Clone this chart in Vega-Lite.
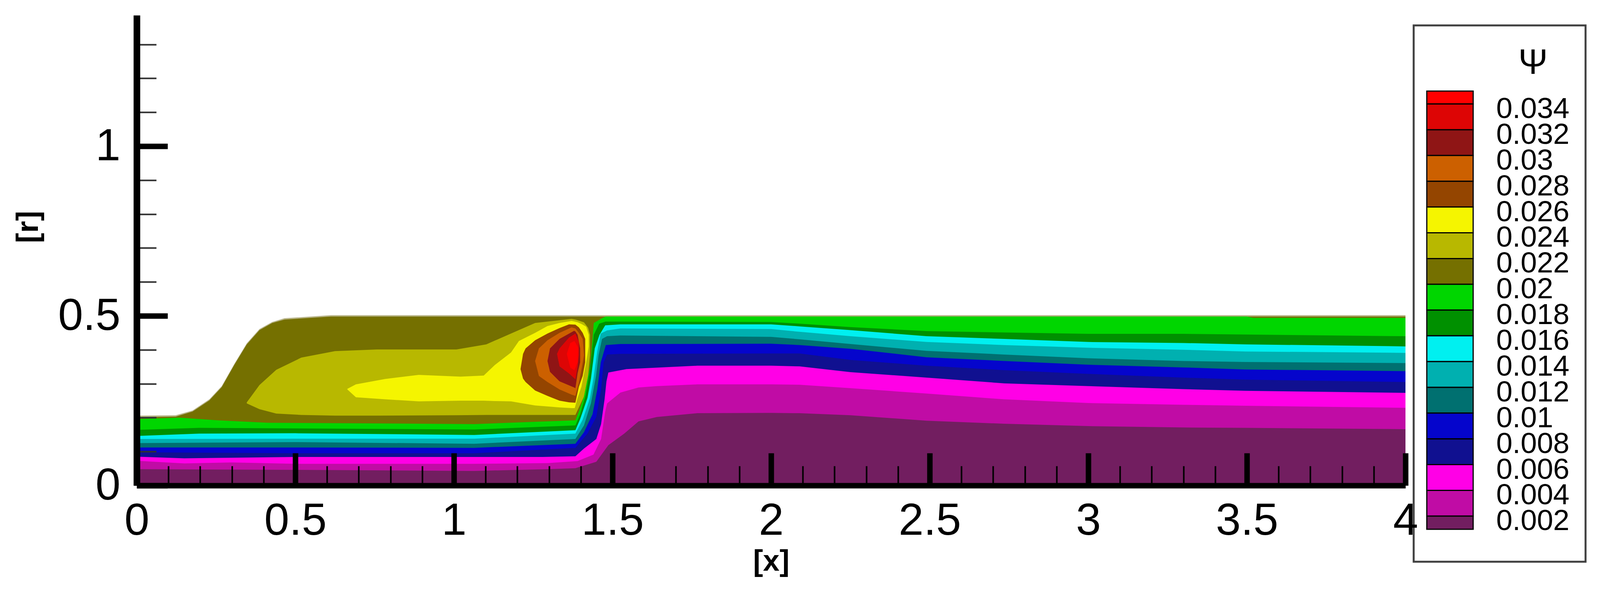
{
  "$schema": "https://vega.github.io/schema/vega-lite/v6.json",
  "background": "white",
  "padding": 0,
  "autosize": {"type": "fit", "contains": "padding"},
  "width": 4096,
  "height": 1517,
  "config": {
    "view": {"stroke": null},
    "font": "Liberation Sans"
  },
  "datasets": {
    "bands": [
      {"level":"wall","x":0,"r0":0,"r1":0.206},{"level":"wall","x":0.123,"r0":0,"r1":0.207},{"level":"wall","x":0.176,"r0":0,"r1":0.221},{"level":"wall","x":0.229,"r0":0,"r1":0.254},{"level":"wall","x":0.268,"r0":0,"r1":0.293},{"level":"wall","x":0.308,"r0":0,"r1":0.359},{"level":"wall","x":0.347,"r0":0,"r1":0.419},{"level":"wall","x":0.387,"r0":0,"r1":0.461},{"level":"wall","x":0.427,"r0":0,"r1":0.482},{"level":"wall","x":0.466,"r0":0,"r1":0.493},{"level":"wall","x":0.612,"r0":0,"r1":0.502},{"level":"wall","x":4,"r0":0,"r1":0.502},

      {"level":"0.02","x":0,"r0":0,"r1":0.201},{"level":"0.02","x":0.123,"r0":0,"r1":0.203},{"level":"0.02","x":0.176,"r0":0,"r1":0.218},{"level":"0.02","x":0.229,"r0":0,"r1":0.251},{"level":"0.02","x":0.268,"r0":0,"r1":0.29},{"level":"0.02","x":0.308,"r0":0,"r1":0.356},{"level":"0.02","x":0.347,"r0":0,"r1":0.416},{"level":"0.02","x":0.387,"r0":0,"r1":0.458},{"level":"0.02","x":0.427,"r0":0,"r1":0.479},{"level":"0.02","x":0.466,"r0":0,"r1":0.489},{"level":"0.02","x":0.612,"r0":0,"r1":0.498},{"level":"0.02","x":4,"r0":0,"r1":0.498},

      {"level":"0.022","x":0.347,"r0":0.242,"r1":0.245},{"level":"0.022","x":0.387,"r0":0.225,"r1":0.296},{"level":"0.022","x":0.44,"r0":0.212,"r1":0.341},{"level":"0.022","x":0.519,"r0":0.208,"r1":0.377},{"level":"0.022","x":0.625,"r0":0.206,"r1":0.396},{"level":"0.022","x":0.757,"r0":0.206,"r1":0.401},{"level":"0.022","x":1.008,"r0":0.207,"r1":0.401},{"level":"0.022","x":1.102,"r0":0.208,"r1":0.416},{"level":"0.022","x":1.18,"r0":0.208,"r1":0.448},{"level":"0.022","x":1.256,"r0":0.208,"r1":0.479},{"level":"0.022","x":1.333,"r0":0.208,"r1":0.487},{"level":"0.022","x":1.371,"r0":0.208,"r1":0.491},{"level":"0.022","x":1.383,"r0":0.208,"r1":0.489},{"level":"0.022","x":1.394,"r0":0.23,"r1":0.486},{"level":"0.022","x":1.41,"r0":0.262,"r1":0.481},{"level":"0.022","x":1.423,"r0":0.323,"r1":0.465},{"level":"0.022","x":1.429,"r0":0.384,"r1":0.444},

      {"level":"0.024","x":0.664,"r0":0.283,"r1":0.285},{"level":"0.024","x":0.691,"r0":0.26,"r1":0.298},{"level":"0.024","x":0.783,"r0":0.254,"r1":0.314},{"level":"0.024","x":0.889,"r0":0.248,"r1":0.326},{"level":"0.024","x":1.021,"r0":0.25,"r1":0.321},{"level":"0.024","x":1.094,"r0":0.25,"r1":0.324},{"level":"0.024","x":1.129,"r0":0.249,"r1":0.355},{"level":"0.024","x":1.18,"r0":0.248,"r1":0.392},{"level":"0.024","x":1.205,"r0":0.244,"r1":0.426},{"level":"0.024","x":1.256,"r0":0.236,"r1":0.45},{"level":"0.024","x":1.295,"r0":0.233,"r1":0.47},{"level":"0.024","x":1.333,"r0":0.23,"r1":0.479},{"level":"0.024","x":1.371,"r0":0.228,"r1":0.485},{"level":"0.024","x":1.381,"r0":0.228,"r1":0.483},{"level":"0.024","x":1.39,"r0":0.258,"r1":0.481},{"level":"0.024","x":1.402,"r0":0.291,"r1":0.476},{"level":"0.024","x":1.417,"r0":0.363,"r1":0.468},{"level":"0.024","x":1.425,"r0":0.41,"r1":0.444},

      {"level":"0.026","x":1.21,"r0":0.343,"r1":0.343},{"level":"0.026","x":1.218,"r0":0.315,"r1":0.388},{"level":"0.026","x":1.226,"r0":0.305,"r1":0.404},{"level":"0.026","x":1.256,"r0":0.28,"r1":0.428},{"level":"0.026","x":1.295,"r0":0.264,"r1":0.448},{"level":"0.026","x":1.333,"r0":0.25,"r1":0.464},{"level":"0.026","x":1.363,"r0":0.245,"r1":0.475},{"level":"0.026","x":1.383,"r0":0.244,"r1":0.474},{"level":"0.026","x":1.394,"r0":0.291,"r1":0.466},{"level":"0.026","x":1.406,"r0":0.323,"r1":0.45},{"level":"0.026","x":1.414,"r0":0.363,"r1":0.432},

      {"level":"0.028","x":1.256,"r0":0.367,"r1":0.367},{"level":"0.028","x":1.268,"r0":0.323,"r1":0.404},{"level":"0.028","x":1.295,"r0":0.305,"r1":0.428},{"level":"0.028","x":1.333,"r0":0.283,"r1":0.45},{"level":"0.028","x":1.371,"r0":0.268,"r1":0.466},{"level":"0.028","x":1.383,"r0":0.264,"r1":0.463},{"level":"0.028","x":1.394,"r0":0.303,"r1":0.45},{"level":"0.028","x":1.406,"r0":0.36,"r1":0.432},{"level":"0.028","x":1.41,"r0":0.384,"r1":0.384},

      {"level":"0.03","x":1.295,"r0":0.367,"r1":0.367},{"level":"0.03","x":1.303,"r0":0.335,"r1":0.404},{"level":"0.03","x":1.333,"r0":0.307,"r1":0.432},{"level":"0.03","x":1.379,"r0":0.289,"r1":0.456},{"level":"0.03","x":1.383,"r0":0.287,"r1":0.454},{"level":"0.03","x":1.39,"r0":0.331,"r1":0.444},{"level":"0.03","x":1.398,"r0":0.363,"r1":0.404},

      {"level":"0.032","x":1.325,"r0":0.388,"r1":0.388},{"level":"0.032","x":1.333,"r0":0.351,"r1":0.404},{"level":"0.032","x":1.363,"r0":0.33,"r1":0.436},{"level":"0.032","x":1.383,"r0":0.313,"r1":0.448},{"level":"0.032","x":1.39,"r0":0.351,"r1":0.432},{"level":"0.032","x":1.394,"r0":0.384,"r1":0.424},

      {"level":"0.034","x":1.356,"r0":0.388,"r1":0.388},{"level":"0.034","x":1.367,"r0":0.347,"r1":0.42},{"level":"0.034","x":1.38,"r0":0.34,"r1":0.426},{"level":"0.034","x":1.39,"r0":0.363,"r1":0.41},{"level":"0.034","x":1.392,"r0":0.404,"r1":0.404},

      {"level":"0.018","x":0,"r0":0,"r1":0.196},{"level":"0.018","x":0.136,"r0":0,"r1":0.2},{"level":"0.018","x":0.255,"r0":0,"r1":0.192},{"level":"0.018","x":0.413,"r0":0,"r1":0.185},{"level":"0.018","x":1.064,"r0":0,"r1":0.181},{"level":"0.018","x":1.383,"r0":0,"r1":0.192},{"level":"0.018","x":1.394,"r0":0,"r1":0.218},{"level":"0.018","x":1.41,"r0":0,"r1":0.262},{"level":"0.018","x":1.423,"r0":0,"r1":0.323},{"level":"0.018","x":1.431,"r0":0,"r1":0.363},{"level":"0.018","x":1.441,"r0":0,"r1":0.479},{"level":"0.018","x":1.467,"r0":0,"r1":0.493},{"level":"0.018","x":1.478,"r0":0,"r1":0.498},{"level":"0.018","x":3.5,"r0":0,"r1":0.498},{"level":"0.018","x":3.52,"r0":0,"r1":0.494},{"level":"0.018","x":4,"r0":0,"r1":0.494},

      {"level":"0.016","x":0,"r0":0,"r1":0.164},{"level":"0.016","x":0.2,"r0":0,"r1":0.17},{"level":"0.016","x":1.064,"r0":0,"r1":0.165},{"level":"0.016","x":1.383,"r0":0,"r1":0.177},{"level":"0.016","x":1.398,"r0":0,"r1":0.21},{"level":"0.016","x":1.415,"r0":0,"r1":0.266},{"level":"0.016","x":1.429,"r0":0,"r1":0.343},{"level":"0.016","x":1.441,"r0":0,"r1":0.444},{"level":"0.016","x":1.458,"r0":0,"r1":0.477},{"level":"0.016","x":1.478,"r0":0,"r1":0.483},{"level":"0.016","x":1.525,"r0":0,"r1":0.483},{"level":"0.016","x":2,"r0":0,"r1":0.482},{"level":"0.016","x":2.09,"r0":0,"r1":0.477},{"level":"0.016","x":2.25,"r0":0,"r1":0.467},{"level":"0.016","x":2.49,"r0":0,"r1":0.455},{"level":"0.016","x":2.735,"r0":0,"r1":0.451},{"level":"0.016","x":3,"r0":0,"r1":0.447},{"level":"0.016","x":3.3,"r0":0,"r1":0.447},{"level":"0.016","x":3.496,"r0":0,"r1":0.445},{"level":"0.016","x":4,"r0":0,"r1":0.44},

      {"level":"0.014","x":0,"r0":0,"r1":0.146},{"level":"0.014","x":0.2,"r0":0,"r1":0.153},{"level":"0.014","x":0.5,"r0":0,"r1":0.154},{"level":"0.014","x":1.064,"r0":0,"r1":0.149},{"level":"0.014","x":1.383,"r0":0,"r1":0.163},{"level":"0.014","x":1.398,"r0":0,"r1":0.196},{"level":"0.014","x":1.421,"r0":0,"r1":0.258},{"level":"0.014","x":1.432,"r0":0,"r1":0.315},{"level":"0.014","x":1.444,"r0":0,"r1":0.404},{"level":"0.014","x":1.459,"r0":0,"r1":0.444},{"level":"0.014","x":1.477,"r0":0,"r1":0.472},{"level":"0.014","x":1.525,"r0":0,"r1":0.475},{"level":"0.014","x":2,"r0":0,"r1":0.475},{"level":"0.014","x":2.09,"r0":0,"r1":0.469},{"level":"0.014","x":2.25,"r0":0,"r1":0.458},{"level":"0.014","x":2.49,"r0":0,"r1":0.44},{"level":"0.014","x":2.735,"r0":0,"r1":0.432},{"level":"0.014","x":3,"r0":0,"r1":0.423},{"level":"0.014","x":3.3,"r0":0,"r1":0.42},{"level":"0.014","x":3.496,"r0":0,"r1":0.416},{"level":"0.014","x":4,"r0":0,"r1":0.41},

      {"level":"0.012","x":0,"r0":0,"r1":0.137},{"level":"0.012","x":0.5,"r0":0,"r1":0.138},{"level":"0.012","x":1.064,"r0":0,"r1":0.138},{"level":"0.012","x":1.383,"r0":0,"r1":0.153},{"level":"0.012","x":1.406,"r0":0,"r1":0.194},{"level":"0.012","x":1.429,"r0":0,"r1":0.258},{"level":"0.012","x":1.44,"r0":0,"r1":0.315},{"level":"0.012","x":1.452,"r0":0,"r1":0.396},{"level":"0.012","x":1.463,"r0":0,"r1":0.448},{"level":"0.012","x":1.483,"r0":0,"r1":0.457},{"level":"0.012","x":1.525,"r0":0,"r1":0.463},{"level":"0.012","x":2,"r0":0,"r1":0.461},{"level":"0.012","x":2.09,"r0":0,"r1":0.453},{"level":"0.012","x":2.25,"r0":0,"r1":0.44},{"level":"0.012","x":2.49,"r0":0,"r1":0.423},{"level":"0.012","x":2.735,"r0":0,"r1":0.414},{"level":"0.012","x":3,"r0":0,"r1":0.406},{"level":"0.012","x":3.3,"r0":0,"r1":0.4},{"level":"0.012","x":3.496,"r0":0,"r1":0.395},{"level":"0.012","x":4,"r0":0,"r1":0.391},

      {"level":"0.01","x":0,"r0":0,"r1":0.125},{"level":"0.01","x":0.5,"r0":0,"r1":0.128},{"level":"0.01","x":1.064,"r0":0,"r1":0.123},{"level":"0.01","x":1.383,"r0":0,"r1":0.137},{"level":"0.01","x":1.41,"r0":0,"r1":0.177},{"level":"0.01","x":1.432,"r0":0,"r1":0.242},{"level":"0.01","x":1.448,"r0":0,"r1":0.323},{"level":"0.01","x":1.456,"r0":0,"r1":0.384},{"level":"0.01","x":1.467,"r0":0,"r1":0.432},{"level":"0.01","x":1.483,"r0":0,"r1":0.44},{"level":"0.01","x":1.525,"r0":0,"r1":0.442},{"level":"0.01","x":2,"r0":0,"r1":0.438},{"level":"0.01","x":2.09,"r0":0,"r1":0.431},{"level":"0.01","x":2.25,"r0":0,"r1":0.417},{"level":"0.01","x":2.49,"r0":0,"r1":0.397},{"level":"0.01","x":2.735,"r0":0,"r1":0.386},{"level":"0.01","x":3,"r0":0,"r1":0.375},{"level":"0.01","x":3.3,"r0":0,"r1":0.367},{"level":"0.01","x":3.496,"r0":0,"r1":0.364},{"level":"0.01","x":4,"r0":0,"r1":0.361},

      {"level":"0.008","x":0,"r0":0,"r1":0.112},{"level":"0.008","x":0.5,"r0":0,"r1":0.112},{"level":"0.008","x":1.064,"r0":0,"r1":0.111},{"level":"0.008","x":1.383,"r0":0,"r1":0.123},{"level":"0.008","x":1.41,"r0":0,"r1":0.157},{"level":"0.008","x":1.437,"r0":0,"r1":0.21},{"level":"0.008","x":1.452,"r0":0,"r1":0.283},{"level":"0.008","x":1.463,"r0":0,"r1":0.363},{"level":"0.008","x":1.479,"r0":0,"r1":0.414},{"level":"0.008","x":1.525,"r0":0,"r1":0.417},{"level":"0.008","x":2,"r0":0,"r1":0.418},{"level":"0.008","x":2.09,"r0":0,"r1":0.414},{"level":"0.008","x":2.25,"r0":0,"r1":0.403},{"level":"0.008","x":2.49,"r0":0,"r1":0.378},{"level":"0.008","x":2.735,"r0":0,"r1":0.367},{"level":"0.008","x":3,"r0":0,"r1":0.356},{"level":"0.008","x":3.3,"r0":0,"r1":0.348},{"level":"0.008","x":3.496,"r0":0,"r1":0.342},{"level":"0.008","x":4,"r0":0,"r1":0.337},

      {"level":"0.006","x":0,"r0":0,"r1":0.098},{"level":"0.006","x":0.5,"r0":0,"r1":0.095},{"level":"0.006","x":1.064,"r0":0,"r1":0.095},{"level":"0.006","x":1.383,"r0":0,"r1":0.111},{"level":"0.006","x":1.421,"r0":0,"r1":0.153},{"level":"0.006","x":1.449,"r0":0,"r1":0.202},{"level":"0.006","x":1.464,"r0":0,"r1":0.283},{"level":"0.006","x":1.472,"r0":0,"r1":0.363},{"level":"0.006","x":1.483,"r0":0,"r1":0.386},{"level":"0.006","x":1.525,"r0":0,"r1":0.388},{"level":"0.006","x":2,"r0":0,"r1":0.389},{"level":"0.006","x":2.09,"r0":0,"r1":0.389},{"level":"0.006","x":2.25,"r0":0,"r1":0.37},{"level":"0.006","x":2.49,"r0":0,"r1":0.353},{"level":"0.006","x":2.735,"r0":0,"r1":0.34},{"level":"0.006","x":3,"r0":0,"r1":0.329},{"level":"0.006","x":3.3,"r0":0,"r1":0.318},{"level":"0.006","x":3.496,"r0":0,"r1":0.312},{"level":"0.006","x":4,"r0":0,"r1":0.305},

      {"level":"0.004","x":0,"r0":0,"r1":0.085},{"level":"0.004","x":0.15,"r0":0,"r1":0.08},{"level":"0.004","x":0.5,"r0":0,"r1":0.084},{"level":"0.004","x":1.064,"r0":0,"r1":0.084},{"level":"0.004","x":1.279,"r0":0,"r1":0.084},{"level":"0.004","x":1.383,"r0":0,"r1":0.086},{"level":"0.004","x":1.41,"r0":0,"r1":0.109},{"level":"0.004","x":1.449,"r0":0,"r1":0.137},{"level":"0.004","x":1.464,"r0":0,"r1":0.181},{"level":"0.004","x":1.475,"r0":0,"r1":0.254},{"level":"0.004","x":1.481,"r0":0,"r1":0.307},{"level":"0.004","x":1.487,"r0":0,"r1":0.333},{"level":"0.004","x":1.544,"r0":0,"r1":0.343},{"level":"0.004","x":1.767,"r0":0,"r1":0.353},{"level":"0.004","x":2,"r0":0,"r1":0.353},{"level":"0.004","x":2.09,"r0":0,"r1":0.351},{"level":"0.004","x":2.25,"r0":0,"r1":0.334},{"level":"0.004","x":2.49,"r0":0,"r1":0.318},{"level":"0.004","x":2.735,"r0":0,"r1":0.301},{"level":"0.004","x":3,"r0":0,"r1":0.293},{"level":"0.004","x":3.3,"r0":0,"r1":0.284},{"level":"0.004","x":3.496,"r0":0,"r1":0.279},{"level":"0.004","x":4,"r0":0,"r1":0.273},

      {"level":"0.002","x":0,"r0":0,"r1":0.073},{"level":"0.002","x":0.15,"r0":0,"r1":0.065},{"level":"0.002","x":0.3,"r0":0,"r1":0.068},{"level":"0.002","x":0.5,"r0":0,"r1":0.064},{"level":"0.002","x":1.064,"r0":0,"r1":0.064},{"level":"0.002","x":1.295,"r0":0,"r1":0.066},{"level":"0.002","x":1.39,"r0":0,"r1":0.072},{"level":"0.002","x":1.44,"r0":0,"r1":0.091},{"level":"0.002","x":1.464,"r0":0,"r1":0.137},{"level":"0.002","x":1.477,"r0":0,"r1":0.218},{"level":"0.002","x":1.483,"r0":0,"r1":0.242},{"level":"0.002","x":1.525,"r0":0,"r1":0.274},{"level":"0.002","x":1.582,"r0":0,"r1":0.289},{"level":"0.002","x":1.64,"r0":0,"r1":0.293},{"level":"0.002","x":1.767,"r0":0,"r1":0.298},{"level":"0.002","x":2,"r0":0,"r1":0.298},{"level":"0.002","x":2.09,"r0":0,"r1":0.297},{"level":"0.002","x":2.25,"r0":0,"r1":0.287},{"level":"0.002","x":2.49,"r0":0,"r1":0.271},{"level":"0.002","x":2.735,"r0":0,"r1":0.254},{"level":"0.002","x":3,"r0":0,"r1":0.243},{"level":"0.002","x":3.3,"r0":0,"r1":0.238},{"level":"0.002","x":3.496,"r0":0,"r1":0.235},{"level":"0.002","x":4,"r0":0,"r1":0.229},

      {"level":"0.001","x":0,"r0":0,"r1":0.048},{"level":"0.001","x":0.5,"r0":0,"r1":0.046},{"level":"0.001","x":1.064,"r0":0,"r1":0.043},{"level":"0.001","x":1.295,"r0":0,"r1":0.048},{"level":"0.001","x":1.383,"r0":0,"r1":0.051},{"level":"0.001","x":1.449,"r0":0,"r1":0.07},{"level":"0.001","x":1.487,"r0":0,"r1":0.119},{"level":"0.001","x":1.537,"r0":0,"r1":0.153},{"level":"0.001","x":1.582,"r0":0,"r1":0.189},{"level":"0.001","x":1.64,"r0":0,"r1":0.202},{"level":"0.001","x":1.767,"r0":0,"r1":0.213},{"level":"0.001","x":2,"r0":0,"r1":0.214},{"level":"0.001","x":2.09,"r0":0,"r1":0.213},{"level":"0.001","x":2.25,"r0":0,"r1":0.207},{"level":"0.001","x":2.49,"r0":0,"r1":0.191},{"level":"0.001","x":2.735,"r0":0,"r1":0.182},{"level":"0.001","x":3,"r0":0,"r1":0.175},{"level":"0.001","x":3.3,"r0":0,"r1":0.171},{"level":"0.001","x":3.496,"r0":0,"r1":0.17},{"level":"0.001","x":4,"r0":0,"r1":0.166}
    ],
    "levels": [
      {"level":"0.034","lo":0.034,"hi":0.035,"barLeft":36,"barRight":163,"labelCol":226},
      {"level":"0.032","lo":0.032,"hi":0.034,"barLeft":36,"barRight":163,"labelCol":226},
      {"level":"0.03","lo":0.03,"hi":0.032,"barLeft":36,"barRight":163,"labelCol":226},
      {"level":"0.028","lo":0.028,"hi":0.03,"barLeft":36,"barRight":163,"labelCol":226},
      {"level":"0.026","lo":0.026,"hi":0.028,"barLeft":36,"barRight":163,"labelCol":226},
      {"level":"0.024","lo":0.024,"hi":0.026,"barLeft":36,"barRight":163,"labelCol":226},
      {"level":"0.022","lo":0.022,"hi":0.024,"barLeft":36,"barRight":163,"labelCol":226},
      {"level":"0.02","lo":0.02,"hi":0.022,"barLeft":36,"barRight":163,"labelCol":226},
      {"level":"0.018","lo":0.018,"hi":0.02,"barLeft":36,"barRight":163,"labelCol":226},
      {"level":"0.016","lo":0.016,"hi":0.018,"barLeft":36,"barRight":163,"labelCol":226},
      {"level":"0.014","lo":0.014,"hi":0.016,"barLeft":36,"barRight":163,"labelCol":226},
      {"level":"0.012","lo":0.012,"hi":0.014,"barLeft":36,"barRight":163,"labelCol":226},
      {"level":"0.01","lo":0.01,"hi":0.012,"barLeft":36,"barRight":163,"labelCol":226},
      {"level":"0.008","lo":0.008,"hi":0.01,"barLeft":36,"barRight":163,"labelCol":226},
      {"level":"0.006","lo":0.006,"hi":0.008,"barLeft":36,"barRight":163,"labelCol":226},
      {"level":"0.004","lo":0.004,"hi":0.006,"barLeft":36,"barRight":163,"labelCol":226},
      {"level":"0.002","lo":0.002,"hi":0.004,"barLeft":36,"barRight":163,"labelCol":226},
      {"level":"0.001","lo":0.00098,"hi":0.002,"barLeft":36,"barRight":163,"labelCol":226}
    ]
  },
  "resolve": {"scale": {"x": "independent", "y": "independent"}, "axis": {"x": "independent", "y": "independent"}},
  "layer": [
    {
      "resolve": {"axis": {"x": "independent", "y": "independent"}},
      "layer": [
        {
          "data": {"name": "bands"},
          "mark": {"type": "area", "interpolate": "linear"},
          "encoding": {
            "x": {
              "field": "x",
              "type": "quantitative",
              "scale": {"domain": [0, 4], "range": [350, 3598], "nice": false, "zero": false},
              "axis": {
                "title": "[x]",
                "titleFont": "Liberation Sans",
                "titleFontWeight": "bold",
                "titleFontSize": 76,
                "titleColor": "black",
                "titleX": 1974,
                "titleY": 217,
                "titleBaseline": "alphabetic",
                "offset": -275,
                "values": [0, 0.5, 1, 1.5, 2, 2.5, 3, 3.5, 4],
                "format": "~g",
                "grid": false,
                "zindex": 2,
                "domainColor": "black",
                "domainWidth": 14,
                "tickColor": "black",
                "tickWidth": 14,
                "tickSize": -83,
                "labelFont": "Liberation Sans",
                "labelFontSize": 115,
                "labelColor": "black",
                "labelPadding": 117,
                "labelFlush": false,
                "labelOverlap": false,
                "labelBound": false
              }
            },
            "y": {
              "field": "r1",
              "type": "quantitative",
              "stack": null,
              "scale": {"domain": [0, 1.386], "range": [1242, 39], "nice": false, "zero": false},
              "axis": {
                "title": "[r]",
                "titleFont": "Liberation Sans",
                "titleFontWeight": "bold",
                "titleFontSize": 78,
                "titleColor": "black",
                "titleX": -277,
                "titleY": 580,
                "titleBaseline": "middle",
                "titleAlign": "center",
                "offset": -350,
                "values": [0, 0.5, 1],
                "format": "~g",
                "grid": false,
                "zindex": 2,
                "domainColor": "black",
                "domainWidth": 17,
                "tickColor": "black",
                "tickWidth": 14,
                "tickSize": -79,
                "labelFont": "Liberation Sans",
                "labelFontSize": 115,
                "labelColor": "black",
                "labelPadding": 121,
                "labelOverlap": false,
                "labelBound": false
              }
            },
            "y2": {"field": "r0"},
            "color": {
              "field": "level",
              "type": "nominal",
              "legend": null,
              "scale": {
                "domain": ["wall","0.034","0.032","0.03","0.028","0.026","0.024","0.022","0.02","0.018","0.016","0.014","0.012","0.01","0.008","0.006","0.004","0.002","0.001"],
                "range": ["#B8B488","#FF0000","#DD0505","#8F1515","#CC6000","#944500","#F5F500","#B8B800","#757000","#00D600","#009000","#00F0F0","#00B0B0","#007070","#0505CC","#101090","#FF00E6","#C00CA5","#721E60"]
              }
            }
          }
        },
        {
          "data": {"values": []},
          "mark": {"type": "area"},
          "encoding": {
            "x": {
              "field": "x",
              "type": "quantitative",
              "axis": {
                "title": null,
                "orient": "top",
                "offset": -1242,
                "values": [0.1,0.2,0.3,0.4,0.6,0.7,0.8,0.9,1.1,1.2,1.3,1.4,1.6,1.7,1.8,1.9,2.1,2.2,2.3,2.4,2.6,2.7,2.8,2.9,3.1,3.2,3.3,3.4,3.6,3.7,3.8,3.9],
                "labels": false,
                "domain": false,
                "grid": false,
                "zindex": 1,
                "tickColor": "black",
                "tickWidth": 4,
                "tickSize": 50
              }
            },
            "y": {
              "field": "r1",
              "type": "quantitative",
              "axis": {
                "title": null,
                "orient": "right",
                "offset": -3746,
                "values": [0.1,0.2,0.3,0.4,0.6,0.7,0.8,0.9,1.1,1.2,1.3],
                "labels": false,
                "domain": false,
                "grid": false,
                "zindex": 1,
                "tickColor": "#303030",
                "tickWidth": 4,
                "tickSize": 50
              }
            }
          }
        }
      ]
    },
    {
      "layer": [
        {
          "data": {"values": [{"left": 0, "right": 471, "lo": -0.00154, "hi": 0.0401}]},
          "mark": {"type": "rect", "fill": "white", "stroke": "#404040", "strokeWidth": 5},
          "encoding": {
            "x": {"field": "left", "type": "quantitative", "axis": null, "scale": {"domain": [0, 471], "range": [3619, 4059], "nice": false, "zero": false}},
            "x2": {"field": "right"},
            "y": {"field": "lo", "type": "quantitative", "axis": null, "scale": {"domain": [-0.00154, 0.04089], "range": [1437, 39], "nice": false, "zero": false}},
            "y2": {"field": "hi"}
          }
        },
        {
          "data": {"values": [{"col": 327, "psi": 0.03716, "name": "Ψ"}]},
          "mark": {"type": "text", "font": "Liberation Sans", "fontSize": 90, "color": "black", "align": "center", "baseline": "middle"},
          "encoding": {
            "x": {"field": "col", "type": "quantitative", "axis": null},
            "y": {"field": "psi", "type": "quantitative", "axis": null},
            "text": {"field": "name"}
          }
        },
        {
          "data": {"name": "levels"},
          "mark": {"type": "rect", "stroke": "black", "strokeWidth": 3},
          "encoding": {
            "x": {"field": "barLeft", "type": "quantitative", "axis": null},
            "x2": {"field": "barRight"},
            "y": {"field": "lo", "type": "quantitative", "axis": null},
            "y2": {"field": "hi"},
            "color": {"field": "level", "type": "nominal", "legend": null}
          }
        },
        {
          "data": {"name": "levels"},
          "transform": [{"filter": "datum.lo >= 0.002"}],
          "mark": {"type": "text", "font": "Liberation Sans", "fontSize": 75, "color": "black", "align": "left", "baseline": "middle", "dy": 13},
          "encoding": {
            "x": {"field": "labelCol", "type": "quantitative", "axis": null},
            "y": {"field": "lo", "type": "quantitative", "axis": null},
            "text": {"field": "level"}
          }
        }
      ]
    }
  ]
}
